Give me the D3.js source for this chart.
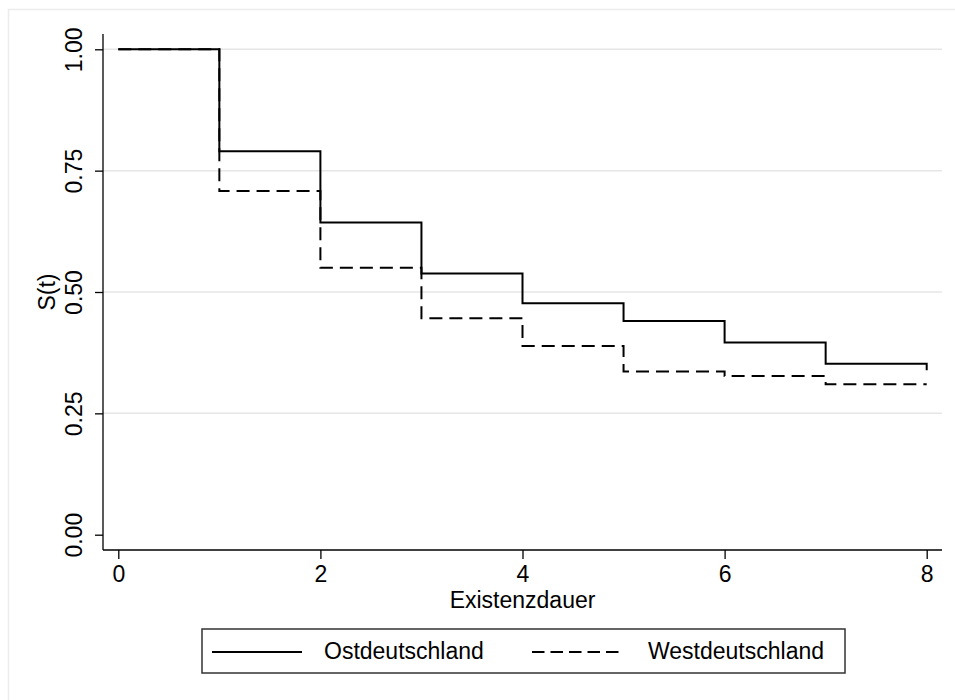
<!DOCTYPE html>
<html>
<head>
<meta charset="utf-8">
<script src="https://cdn.jsdelivr.net/npm/d3@7"></script>
<style>
  html, body { margin: 0; padding: 0; background: #fff; }
  svg { display: block; }
  text { font-family: "Liberation Sans", Arial, sans-serif; fill: #000; }
</style>
</head>
<body>
<svg id="chart" width="955" height="700"></svg>
<script>
// ---- data ----
const times = [0, 1, 2, 3, 4, 5, 6, 7, 8];
const ostValues = [1.0, 0.790, 0.643, 0.538, 0.477, 0.440, 0.396, 0.352, 0.339];
const westValues = [1.0, 0.708, 0.550, 0.446, 0.389, 0.336, 0.327, 0.310, 0.310];
const xTicks = [0, 2, 4, 6, 8];
const yTicks = [0, 0.25, 0.5, 0.75, 1.0];
const yTickLabels = ["0.00", "0.25", "0.50", "0.75", "1.00"];
const seriesNames = ["Ostdeutschland", "Westdeutschland"];
const xTitle = "Existenzdauer";
const yTitle = "S(t)";

// ---- layout ----
const svg = d3.select("#chart");
const plotLeft = 103, plotRight = 942, plotTop = 34, plotBottom = 550;
const pad = 15.3;
const FS = 23;

const x = d3.scaleLinear().domain([0, 8]).range([plotLeft + pad, plotRight - pad]);
const y = d3.scaleLinear().domain([0, 1]).range([plotBottom - pad, plotTop + pad]);

// outer light frame
svg.append("rect").attr("x", 8.5).attr("y", 9.5).attr("width", 1000).attr("height", 1000)
  .attr("fill", "#fff").attr("stroke", "#ececec").attr("stroke-width", 1.5);

// gridlines
svg.append("g").selectAll("line").data(yTicks.filter(d => d > 0)).join("line")
  .attr("x1", plotLeft).attr("x2", plotRight)
  .attr("y1", d => y(d)).attr("y2", d => y(d))
  .attr("stroke", "#e6e6e6").attr("stroke-width", 1.5);

// y axis
const yAxis = d3.axisLeft(y).tickValues(yTicks).tickSize(8)
  .tickFormat((d, i) => yTickLabels[i]);
const gy = svg.append("g").attr("transform", `translate(${plotLeft},0)`).call(yAxis);
gy.select(".domain").remove();
gy.selectAll(".tick line").attr("stroke", "#000").attr("stroke-width", 1.3);
gy.selectAll(".tick text")
  .attr("x", 0).attr("dy", null)
  .attr("transform", "translate(-21,0) rotate(-90)")
  .attr("text-anchor", "middle")
  .style("font-size", FS + "px")
  .style("font-family", "'Liberation Sans', Arial, sans-serif");
svg.append("line").attr("x1", plotLeft).attr("x2", plotLeft)
  .attr("y1", plotTop).attr("y2", plotBottom)
  .attr("stroke", "#000").attr("stroke-width", 1.3);

// x axis
const xAxis = d3.axisBottom(x).tickValues(xTicks).tickSize(9).tickFormat(d3.format("d"));
const gx = svg.append("g").attr("transform", `translate(0,${plotBottom})`).call(xAxis);
gx.select(".domain").remove();
gx.selectAll(".tick line").attr("stroke", "#000").attr("stroke-width", 1.3);
gx.selectAll(".tick text")
  .attr("y", 32).attr("dy", null)
  .style("font-size", FS + "px")
  .style("font-family", "'Liberation Sans', Arial, sans-serif");
svg.append("line").attr("x1", plotLeft).attr("x2", plotRight)
  .attr("y1", plotBottom).attr("y2", plotBottom)
  .attr("stroke", "#000").attr("stroke-width", 1.3);

// axis titles
svg.append("text").attr("x", (plotLeft + plotRight) / 2).attr("y", 608)
  .attr("text-anchor", "middle").style("font-size", FS + "px").text(xTitle);
svg.append("text").attr("transform", `translate(55,${(plotTop + plotBottom) / 2}) rotate(-90)`)
  .attr("text-anchor", "middle").style("font-size", FS + "px").text(yTitle);

// step lines
const line = d3.line().x(d => x(d[0])).y(d => y(d[1])).curve(d3.curveStepAfter);
const ostData = times.map((t, i) => [t, ostValues[i]]);
const westData = times.map((t, i) => [t, westValues[i]]);

svg.append("path").datum(westData).attr("d", line)
  .attr("fill", "none").attr("stroke", "#000").attr("stroke-width", 2)
  .attr("stroke-dasharray", "13,7");
svg.append("path").datum(ostData).attr("d", line)
  .attr("fill", "none").attr("stroke", "#000").attr("stroke-width", 2);

// legend
const lg = svg.append("g");
lg.append("rect").attr("x", 202).attr("y", 629).attr("width", 643).attr("height", 44)
  .attr("fill", "#fff").attr("stroke", "#333").attr("stroke-width", 1.5);
lg.append("line").attr("x1", 212).attr("x2", 302).attr("y1", 652).attr("y2", 652)
  .attr("stroke", "#000").attr("stroke-width", 2);
lg.append("text").attr("x", 324).attr("y", 659).style("font-size", FS + "px").text(seriesNames[0]);
lg.append("line").attr("x1", 532).attr("x2", 620).attr("y1", 652).attr("y2", 652)
  .attr("stroke", "#000").attr("stroke-width", 2).attr("stroke-dasharray", "12.5,6");
lg.append("text").attr("x", 648).attr("y", 659).style("font-size", FS + "px").text(seriesNames[1]);
</script>
</body>
</html>
